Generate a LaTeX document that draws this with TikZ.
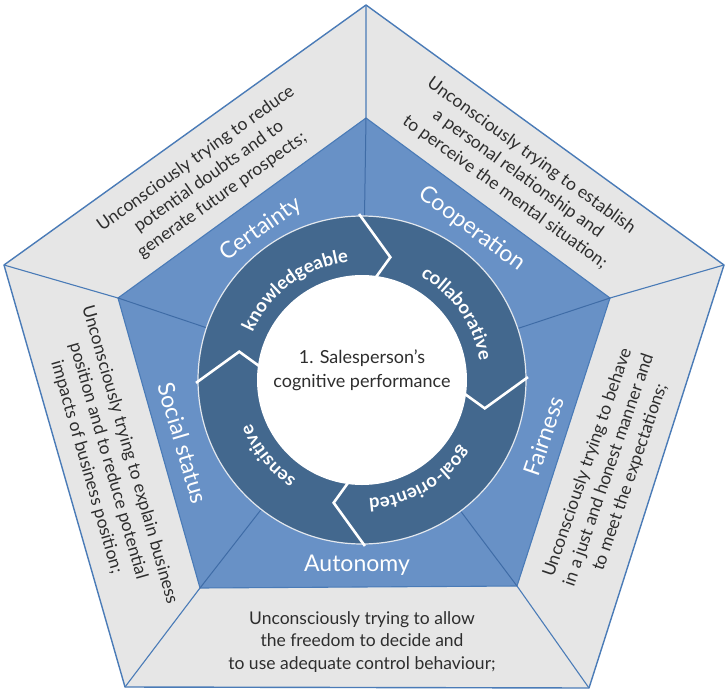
\documentclass[tikz,border=0pt]{standalone}
\usepackage{fontspec}
\setmainfont{Lato}
\usetikzlibrary{decorations.text,calc}
\definecolor{grayfill}{HTML}{E6E6E6}
\definecolor{edgeblue}{HTML}{4A7BB7}
\definecolor{midblue}{HTML}{6891C6}
\definecolor{spokeblue}{HTML}{3F6CA6}
\definecolor{ringblue}{HTML}{43688E}
\definecolor{txtgray}{HTML}{2E2E2E}
\begin{document}
\begin{tikzpicture}[x=1pt,y=1pt,
  graytext/.style={text=txtgray, font=\fontsize{17.5}{22.5}\selectfont, align=center, inner sep=0pt},
  bluelabel/.style={text=white, font=\fontsize{23}{26}\selectfont, inner sep=0pt},
  centertext/.style={text=txtgray, font=\fontsize{18}{24}\selectfont, align=center, inner sep=0pt},
  outline/.style={draw=edgeblue, line width=1.4pt, line join=round},
  divider/.style={draw=edgeblue, line width=1.1pt},
  spoke/.style={draw=spokeblue, line width=1pt},
  gapline/.style={draw=white, line width=2.6pt, line join=miter},
  ringlabel/.style={decorate, decoration={text along path, text align=center, text color=white, text={|\fontsize{18.5}{18.5}\selectfont\bfseries|#1}}}
]
\useasboundingbox (0,0) rectangle (726,-691);
\fill[white] (0,0) rectangle (726,-691);
% vertices
\coordinate (OT) at (366,-5);
\coordinate (OR) at (724,-265);
\coordinate (OBR) at (589,-688);
\coordinate (OBL) at (125,-687);
\coordinate (OL) at (4,-265);
\coordinate (IT) at (366,-118);
\coordinate (IR) at (610,-298);
\coordinate (IBR) at (517,-586);
\coordinate (IBL) at (200,-588);
\coordinate (IL) at (118,-298);
\coordinate (C) at (362,-380);
% outer pentagon
\path[outline, fill=grayfill] (OT) -- (OR) -- (OBR) -- (OBL) -- (OL) -- cycle;
\draw[divider] (OT) -- (IT) (OR) -- (IR) (OBR) -- (IBR) (OBL) -- (IBL) (OL) -- (IL);
% inner pentagon
\path[divider, fill=midblue] (IT) -- (IR) -- (IBR) -- (IBL) -- (IL) -- cycle;
\draw[spoke] (IT) -- (C) (IR) -- (C) (IBR) -- (C) (IBL) -- (C) (IL) -- (C);
% ring
\fill[ringblue] (C) circle[radius=164];
\draw[white!85!ringblue, line width=1.2pt] (C) circle[radius=164];
\foreach \a in {91,1,-89,181}{
  \draw[gapline] ($(C)+(\a:166)$) -- ($(C)+(\a-14:126)$) -- ($(C)+(\a-8.5:103)$);
}
\fill[white] (C) circle[radius=105];
% ring labels
\path[ringlabel=knowledgeable] ($(C)+(186.5:119)$) arc[start angle=186.5, end angle=66.5, radius=119];
\path[ringlabel=collaborative] ($(C)+(95:119)$) arc[start angle=95, end angle=-25, radius=119];
\path[ringlabel=goal-oriented] ($(C)+(0:119)$) arc[start angle=0, end angle=-120, radius=119];
\path[ringlabel=sensitive] ($(C)+(-81:119)$) arc[start angle=-81, end angle=-201, radius=119];
% center text
\node[centertext] (ctr) at (362,-370) {1. Salesperson's\\cognitive performance};
% blue labels
\node[bluelabel, rotate=35] (certainty) at (261,-229) {Certainty};
\node[bluelabel, rotate=-36.5] (cooperation) at (472,-229) {Cooperation};
\node[bluelabel, rotate=71] (fairness) at (544,-436) {Fairness};
\node[bluelabel, rotate=-73.5] (social) at (183,-443) {Social status};
\node[bluelabel] (autonomy) at (357,-565) {Autonomy};
% gray texts
\node[graytext, rotate=35.5] (tcert) at (209,-177) {Unconsciously trying to reduce\\potential doubts and to\\generate future prospects;};
\node[graytext, rotate=-36] (tcoop) at (518,-174) {Unconsciously trying to establish\\a personal relationship and\\to perceive the mental situation;};
\node[graytext, rotate=71] (tfair) at (609,-470) {Unconsciously trying to behave\\in a just and honest manner and\\to meet the expectations;};
\node[graytext, rotate=-74] (tsoc) at (108,-461) {Unconsciously trying to explain business\\position and to reduce potential\\impacts of business position;};
\node[graytext] (taut) at (362,-642) {Unconsciously trying to allow\\the freedom to decide and\\to use adequate control behaviour;};
\end{tikzpicture}
\end{document}
